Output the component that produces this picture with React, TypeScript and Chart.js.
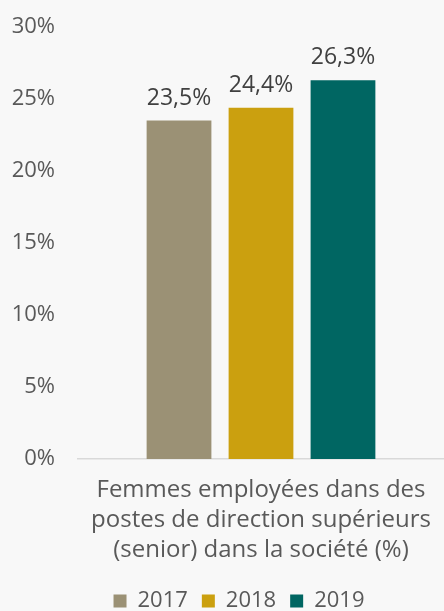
import React, { useEffect, useRef } from 'react';
import { Chart, registerables } from 'chart.js';

Chart.register(...registerables);

const categories = [['Femmes employées dans des', 'postes de direction supérieurs', '(senior) dans la société (%)']];
const seriesNames = ['2017', '2018', '2019'];
const values2017 = [23.5];
const values2018 = [24.4];
const values2019 = [26.3];
const yTickValues = [0, 5, 10, 15, 20, 25, 30];
const seriesColors = ['#9b9175', '#cba00f', '#006662'];

const FONT = '"Open Sans", "DejaVu Sans", sans-serif';

const dataLabelPlugin = {
  id: 'dataLabels',
  afterDatasetsDraw(chart: any) {
    const ctx = chart.ctx;
    ctx.save();
    ctx.font = `23px ${FONT}`;
    ctx.fillStyle = '#404040';
    ctx.textAlign = 'center';
    ctx.textBaseline = 'alphabetic';
    chart.data.datasets.forEach((ds: any, i: number) => {
      const meta = chart.getDatasetMeta(i);
      meta.data.forEach((bar: any, j: number) => {
        const v = ds.data[j] as number;
        ctx.fillText(v.toFixed(1).replace('.', ',') + '%', bar.x, bar.y - 16);
      });
    });
    ctx.restore();
  },
};

const legendNudgePlugin = {
  id: 'legendNudge',
  afterLayout(chart: any) {
    const lg = chart.legend;
    if (!lg) return;
    const dx = 17;
    const dy = 11;
    lg.left += dx;
    lg.right += dx;
    lg.top += dy;
    lg.bottom += dy;
  },
};

export default function App() {
  const ref = useRef<HTMLCanvasElement | null>(null);

  useEffect(() => {
    document.body.style.margin = '0';
    document.body.style.background = '#f8f8f8';
    if (!ref.current) return;
    const datasets = [values2017, values2018, values2019].map((vals, i) => ({
      label: seriesNames[i],
      data: vals,
      backgroundColor: seriesColors[i],
      borderWidth: 0,
      categoryPercentage: 0.672,
      barPercentage: 0.79,
    }));
    const chart = new Chart(ref.current, {
      type: 'bar',
      data: { labels: categories as any, datasets },
      options: {
        animation: false,
        responsive: true,
        maintainAspectRatio: false,
        layout: { padding: 0 },
        plugins: {
          tooltip: { enabled: false },
          legend: {
            position: 'bottom',
            labels: {
              boxWidth: 13,
              boxHeight: 13,
              padding: 14,
              color: '#595959',
              font: { family: FONT, size: 22 },
            },
          },
        },
        scales: {
          x: {
            grid: { display: false, drawTicks: false },
            border: { display: true, color: '#d9d9d9', width: 1.5 },
            ticks: {
              color: '#595959',
              padding: 16,
              font: { family: FONT, size: 24, lineHeight: 1.25 },
              maxRotation: 0,
            },
            afterFit(scale: any) {
              scale.height = 106;
              scale.paddingLeft = 0;
              scale.paddingRight = 0;
            },
          },
          y: {
            min: 0,
            max: 30,
            afterBuildTicks(scale: any) {
              scale.ticks = yTickValues.map((v) => ({ value: v }));
            },
            grid: { display: false, drawTicks: false },
            border: { display: false },
            ticks: {
              color: '#595959',
              padding: 23,
              font: { family: FONT, size: 22 },
              callback: (v: any) => `${v}%`,
            },
            afterFit(scale: any) {
              scale.width = 78;
              scale.paddingTop = 27;
              scale.paddingBottom = 0;
            },
          },
        },
      },
      plugins: [dataLabelPlugin, legendNudgePlugin],
    });
    return () => chart.destroy();
  }, []);

  return (
    <div style={{ width: 444, height: 611, position: 'relative', background: '#f8f8f8' }}>
      <canvas ref={ref} />
    </div>
  );
}
